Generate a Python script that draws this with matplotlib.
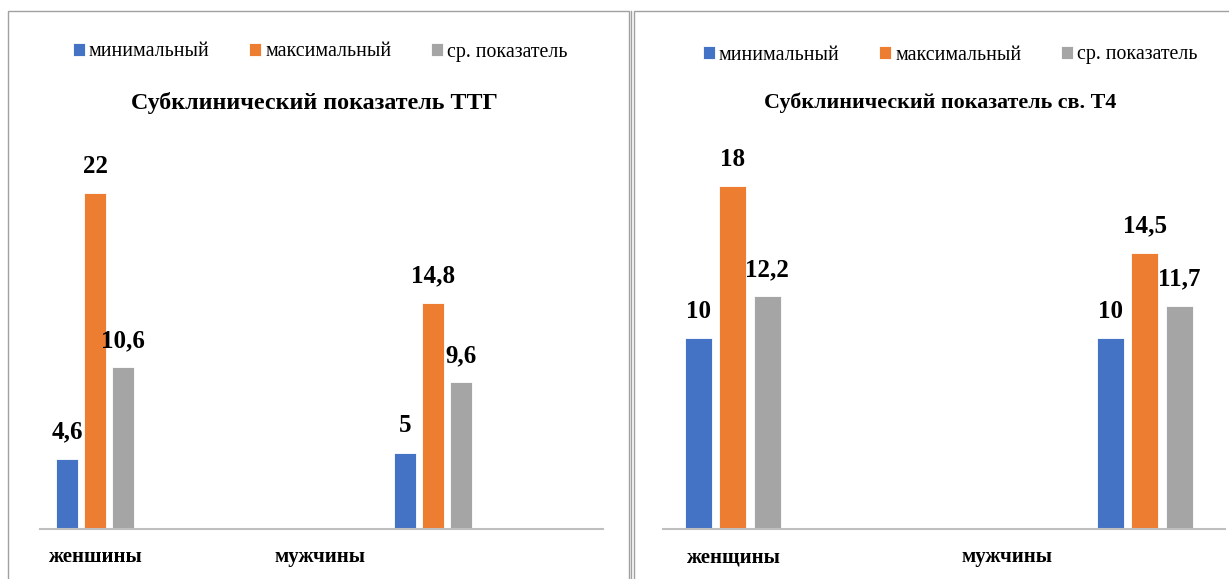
"""Two grouped bar charts: subclinical TSH and free T4 by sex."""

import matplotlib.pyplot as plt
from matplotlib.patches import Rectangle
import numpy as np

plt.rcParams["font.family"] = ["Liberation Serif", "DejaVu Serif"]

categories_left = ["женшины", "мужчины"]
categories_right = ["женщины", "мужчины"]
series_names = ["минимальный", "максимальный", "ср. показатель"]
colors = ["#4472C4", "#ED7D31", "#A5A5A5"]

ttg_min = [4.6, 5]
ttg_max = [22, 14.8]
ttg_avg = [10.6, 9.6]

t4_min = [10, 10]
t4_max = [18, 14.5]
t4_avg = [12.2, 11.7]


def fmt(v):
    return f"{v:g}".replace(".", ",")


def draw_panel(fig, rect, cats, series, ymax, xlim, width, step):
    ax = fig.add_axes(rect)
    x = np.arange(len(cats))
    for i, (vals, color) in enumerate(zip(series, colors)):
        pos = x + (i - 1) * step
        bars = ax.bar(pos, vals, width=width, color=color, label=series_names[i],
                      edgecolor="white", linewidth=0.6)
        for b, v in zip(bars, vals):
            ax.annotate(fmt(v), (b.get_x() + b.get_width() / 2, v),
                        xytext=(0, 11), textcoords="offset points",
                        ha="center", va="bottom", fontsize=18,
                        fontweight="bold")
    ax.set_ylim(0, ymax)
    ax.set_xlim(*xlim)
    ax.set_yticks([])
    # category labels sit left of the groups, as in the source chart
    ax.set_xticks([0, 0.665])
    ax.set_xticklabels(cats, fontsize=15, fontweight="bold")
    ax.tick_params(axis="x", length=0, pad=13)
    for s in ("top", "right", "left"):
        ax.spines[s].set_visible(False)
    ax.spines["bottom"].set_color("#BFBFBF")
    ax.spines["bottom"].set_linewidth(1.5)
    return ax


fig = plt.figure(figsize=(12.29, 5.79), dpi=100)
W, H = 1229, 579
top = (579 - 11) / H

# panel borders
fig.patches.append(Rectangle((8 / W, -0.01), 621 / W, top + 0.01,
                             transform=fig.transFigure, fill=False,
                             edgecolor="#A0A0A0", linewidth=1.0))
fig.patches.append(Rectangle((634 / W, -0.01), 600 / W, top + 0.01,
                             transform=fig.transFigure, fill=False,
                             edgecolor="#A0A0A0", linewidth=1.0))
fig.add_artist(plt.Line2D([631 / W, 631 / W], [0, top],
                          transform=fig.transFigure, color="#A0A0A0",
                          linewidth=1.0))

bottom = (579 - 529) / H
height = 379 / H

ax1 = draw_panel(fig, [40 / W, bottom, 563 / W, height], categories_left,
                 [ttg_min, ttg_max, ttg_avg], 379 / 15.27,
                 (-0.163, 1.503), 0.065, 0.083)
ax2 = draw_panel(fig, [663 / W, bottom, 562 / W, height], categories_right,
                 [t4_min, t4_max, t4_avg], 379 / 19.06,
                 (-0.169, 1.195), 0.0655, 0.0837)

for ax, cx, ly in ((ax1, 320 / W, 1 - 52 / H), (ax2, 950 / W, 1 - 55 / H)):
    handles, labels = ax.get_legend_handles_labels()
    fig.legend(handles, labels, loc="center", bbox_to_anchor=(cx, ly),
               ncol=3, frameon=False, fontsize=14.3, handlelength=0.6,
               handleheight=0.6, handletextpad=0.2, columnspacing=2.0)

fig.text(314 / W, 1 - 103 / H, "Субклинический показатель ТТГ",
         ha="center", va="center", fontsize=17.3, fontweight="bold")
fig.text(940 / W, 1 - 103 / H, "Субклинический показатель св. Т4",
         ha="center", va="center", fontsize=15.8, fontweight="bold")

fig.savefig("out.png", dpi=100)
